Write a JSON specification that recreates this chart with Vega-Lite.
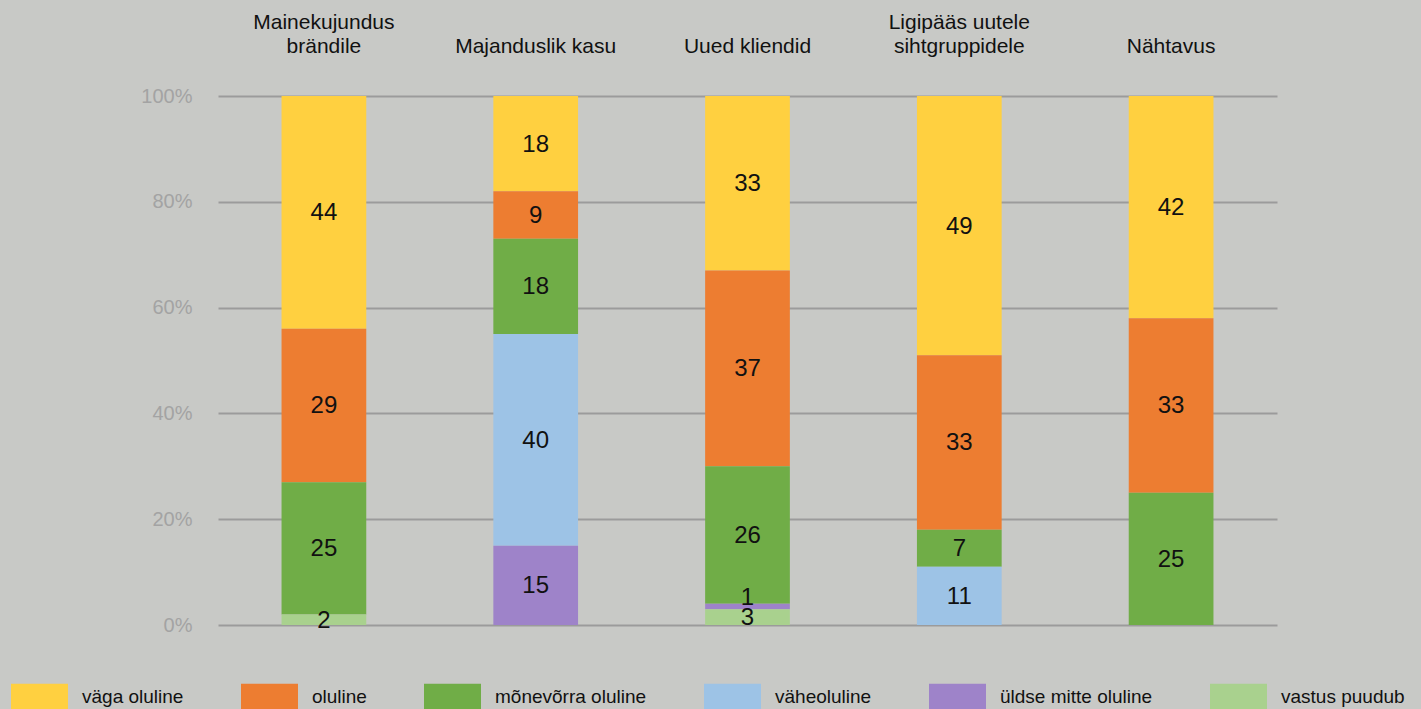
{
 "$schema": "https://vega.github.io/schema/vega-lite/v6.json",
 "width": 1059,
 "height": 529,
 "autosize": {"type": "none"},
 "padding": {"left": 218, "top": 96, "right": 144, "bottom": 84},
 "background": "#c8c9c6",
 "config": {"view": {"stroke": null}, "font": "Liberation Sans"},
 "data": {"values": [
  {"teema": "Mainekujundus brändile", "hinnang": "väga oluline", "v": 44},
  {"teema": "Mainekujundus brändile", "hinnang": "oluline", "v": 29},
  {"teema": "Mainekujundus brändile", "hinnang": "mõnevõrra oluline", "v": 25},
  {"teema": "Mainekujundus brändile", "hinnang": "vastus puudub", "v": 2},
  {"teema": "Majanduslik kasu", "hinnang": "väga oluline", "v": 18},
  {"teema": "Majanduslik kasu", "hinnang": "oluline", "v": 9},
  {"teema": "Majanduslik kasu", "hinnang": "mõnevõrra oluline", "v": 18},
  {"teema": "Majanduslik kasu", "hinnang": "väheoluline", "v": 40},
  {"teema": "Majanduslik kasu", "hinnang": "üldse mitte oluline", "v": 15},
  {"teema": "Uued kliendid", "hinnang": "väga oluline", "v": 33},
  {"teema": "Uued kliendid", "hinnang": "oluline", "v": 37},
  {"teema": "Uued kliendid", "hinnang": "mõnevõrra oluline", "v": 26},
  {"teema": "Uued kliendid", "hinnang": "üldse mitte oluline", "v": 1},
  {"teema": "Uued kliendid", "hinnang": "vastus puudub", "v": 3},
  {"teema": "Ligipääs uutele sihtgruppidele", "hinnang": "väga oluline", "v": 49},
  {"teema": "Ligipääs uutele sihtgruppidele", "hinnang": "oluline", "v": 33},
  {"teema": "Ligipääs uutele sihtgruppidele", "hinnang": "mõnevõrra oluline", "v": 7},
  {"teema": "Ligipääs uutele sihtgruppidele", "hinnang": "väheoluline", "v": 11},
  {"teema": "Nähtavus", "hinnang": "väga oluline", "v": 42},
  {"teema": "Nähtavus", "hinnang": "oluline", "v": 33},
  {"teema": "Nähtavus", "hinnang": "mõnevõrra oluline", "v": 25}
 ]},
 "transform": [
  {"calculate": "indexof(['väga oluline','oluline','mõnevõrra oluline','väheoluline','üldse mitte oluline','vastus puudub'], datum.hinnang)", "as": "ord"},
  {"stack": "v", "groupby": ["teema"], "sort": [{"field": "ord", "order": "descending"}], "as": ["y0", "y1"]},
  {"calculate": "(datum.y0 + datum.y1) / 2", "as": "mid"}
 ],
 "encoding": {
  "x": {
   "field": "teema", "type": "nominal",
   "sort": ["Mainekujundus brändile", "Majanduslik kasu", "Uued kliendid", "Ligipääs uutele sihtgruppidele", "Nähtavus"],
   "scale": {"paddingInner": 0.6, "paddingOuter": 0.3},
   "axis": {
    "orient": "top", "title": null, "domain": false, "ticks": false, "tickSize": 0,
    "labelPadding": 64, "labelFontSize": 21, "labelColor": "#111111", "labelLineHeight": 24,
    "labelAngle": 0, "labelLimit": 400,
    "labelExpr": "datum.label == 'Mainekujundus brändile' ? ['Mainekujundus', 'brändile'] : datum.label == 'Ligipääs uutele sihtgruppidele' ? ['Ligipääs uutele', 'sihtgruppidele'] : ['', datum.label]"
   }
  }
 },
 "layer": [
  {
   "mark": {"type": "bar"},
   "encoding": {
    "y": {"field": "y0", "type": "quantitative", "scale": {"domain": [0, 100]},
     "axis": {"title": null, "values": [0, 20, 40, 60, 80, 100], "labelExpr": "datum.value + '%'",
      "domain": false, "ticks": false, "tickSize": 0, "labelPadding": 26, "labelFontSize": 20,
      "labelColor": "#a3a3a3", "grid": true, "gridColor": "#9b9b9b", "gridWidth": 2}},
    "y2": {"field": "y1"},
    "color": {
     "field": "hinnang", "type": "nominal",
     "scale": {"domain": ["väga oluline", "oluline", "mõnevõrra oluline", "väheoluline", "üldse mitte oluline", "vastus puudub"],
      "range": ["#ffd040", "#ed7d31", "#70ad47", "#9dc3e6", "#9e83c9", "#a9d18e"]},
     "legend": {"orient": "none", "legendX": -207, "legendY": 572, "direction": "horizontal", "columns": 6,
      "title": null, "symbolType": "M-1,-0.456H1V0.456H-1Z", "symbolSize": 3249, "symbolStrokeWidth": 0,
      "symbolOpacity": 1, "labelFontSize": 19, "labelColor": "#111111", "labelOffset": 14,
      "columnPadding": 57, "labelLimit": 400}
    }
   }
  },
  {
   "transform": [{"filter": "datum.v >= 2"}],
   "mark": {"type": "text", "fontSize": 24, "color": "#111111", "dy": 1},
   "encoding": {
    "y": {"field": "mid", "type": "quantitative", "title": null},
    "text": {"field": "v", "type": "quantitative"}
   }
  },
  {
   "transform": [{"filter": "datum.v < 2"}],
   "mark": {"type": "text", "fontSize": 24, "color": "#111111", "dy": -8},
   "encoding": {
    "y": {"field": "mid", "type": "quantitative", "title": null},
    "text": {"field": "v", "type": "quantitative"}
   }
  }
 ]
}
